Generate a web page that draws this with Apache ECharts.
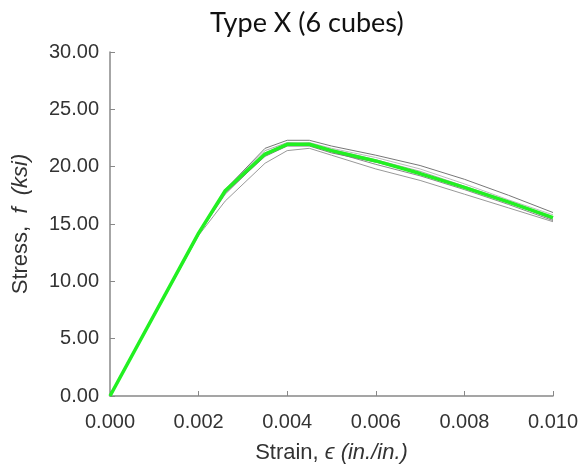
<!DOCTYPE html>
<html>
<head>
<meta charset="utf-8">
<title>Type X (6 cubes)</title>
<script src="https://cdn.jsdelivr.net/npm/echarts@6/dist/echarts.min.js"></script>
<style>
  html, body { margin: 0; padding: 0; background: #fff; }
  #chart { width: 587px; height: 471px; }
</style>
</head>
<body>
<div id="chart"></div>
<script>
// strain points (in./in.) shared by every specimen curve
const strain = [0, 0.002, 0.0026, 0.0035, 0.004, 0.0045, 0.005, 0.006, 0.007, 0.008, 0.009, 0.010]

// stress (ksi) of the six cubes
const cube1 = [0, 14.3, 18.0, 21.6, 22.3, 22.3, 21.8, 21.0, 20.1, 18.9, 17.5, 16.0]
const cube2 = [0, 14.0, 17.0, 20.3, 21.4, 21.6, 21.0, 19.8, 18.8, 17.6, 16.4, 15.2]
const cube3 = [0, 14.2, 17.8, 21.2, 22.0, 22.1, 21.6, 20.8, 19.8, 18.5, 17.1, 15.8]
const cube4 = [0, 14.1, 17.6, 21.0, 21.9, 21.9, 21.3, 20.2, 19.2, 18.0, 16.7, 15.3]
const cube5 = [0, 14.3, 18.0, 21.4, 22.1, 22.0, 21.5, 20.6, 19.6, 18.3, 17.0, 15.6]
const cube6 = [0, 14.2, 17.7, 20.9, 21.8, 21.8, 21.2, 20.4, 19.4, 18.2, 16.9, 15.4]

// average curve (green)
const average = [0, 14.2, 17.9, 21.1, 21.95, 21.95, 21.4, 20.5, 19.4, 18.2, 16.9, 15.55]

const cubes = [cube1, cube2, cube3, cube4, cube5, cube6]
const grays = ['#777777', '#999999', '#bbbbbb', '#888888', '#aaaaaa', '#7a7a7a']

const pairs = ys => strain.map((x, i) => [x, ys[i]])

const chart = echarts.init(document.getElementById('chart'))

const font = "'Liberation Sans', Arial, sans-serif"

const series = cubes.map((ys, i) => ({
  type: 'line',
  data: pairs(ys),
  symbol: 'none',
  silent: true,
  lineStyle: { color: grays[i], width: 1 }
}))
series.push({
  type: 'line',
  data: pairs(average),
  symbol: 'none',
  lineStyle: { color: '#22f022', width: 3.5 }
})

const nameRich = {
  n: { fontFamily: font, fontSize: 22, color: '#333' },
  i: { fontFamily: font, fontSize: 22, fontStyle: 'italic', color: '#333' }
}

chart.setOption({
  animation: false,
  title: {
    text: 'Type X (6 cubes)',
    left: 205,
    top: 5,
    textStyle: {
      fontFamily: 'Lato',
      fontWeight: 'normal',
      fontSize: 27,
      color: '#111'
    }
  },
  grid: { left: 110, right: 34, top: 52, bottom: 75 },
  xAxis: {
    type: 'value',
    min: 0,
    max: 0.010,
    interval: 0.002,
    name: '{n|Strain, }{i|ϵ (in./in.)}',
    nameLocation: 'middle',
    nameGap: 46,
    nameTextStyle: { rich: nameRich },
    axisLine: { lineStyle: { color: '#888', width: 1.5 } },
    axisTick: { inside: true, length: 5, lineStyle: { color: '#888' } },
    splitLine: { show: false },
    axisLabel: {
      margin: 16,
      fontFamily: font,
      fontSize: 20,
      color: '#333',
      formatter: v => v.toFixed(3)
    }
  },
  yAxis: {
    type: 'value',
    min: 0,
    max: 30,
    interval: 5,
    name: '{n|Stress,  }{i|f  (ksi)}',
    nameLocation: 'middle',
    nameGap: 78,
    nameTextStyle: { rich: nameRich },
    axisLine: { show: true, lineStyle: { color: '#888', width: 1.5 } },
    axisTick: { show: true, inside: true, length: 5, lineStyle: { color: '#888' } },
    splitLine: { show: false },
    axisLabel: {
      margin: 11,
      fontFamily: font,
      fontSize: 20,
      color: '#333',
      formatter: v => v.toFixed(2)
    }
  },
  series: series
})
</script>
</body>
</html>
